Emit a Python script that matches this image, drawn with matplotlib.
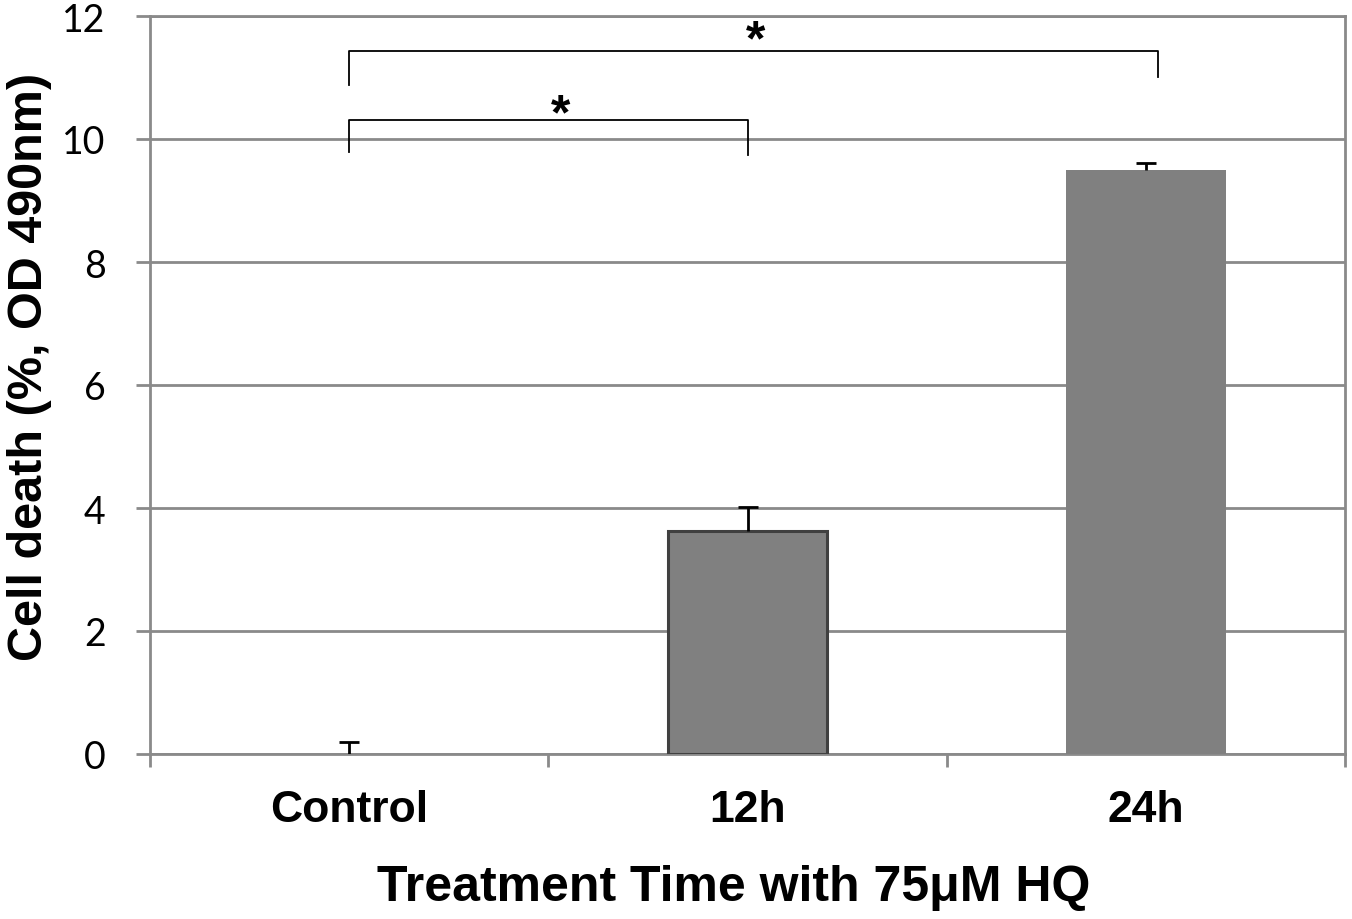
import matplotlib
matplotlib.use("Agg")
import matplotlib.pyplot as plt

# data
categories = ["Control", "12h", "24h"]
cell_death = [0.0, 3.62, 9.50]
err_upper = [0.19, 0.39, 0.11]
bar_edges = ["none", "#404040", "none"]

# significance brackets: (x_left, x_right, y_top, y_left_leg, y_right_leg, x_star, y_star_baseline)
brackets = [
    (0.0, 1.0, 10.31, 9.79, 9.74, 0.53, 10.18),
    (0.0, 2.03, 11.43, 10.88, 11.01, 1.02, 11.38),
]

GRID = "#8a8a8a"

fig = plt.figure(figsize=(13.52, 9.2), dpi=100)
ax = fig.add_axes([150 / 1352, 1 - 755 / 920, 1195 / 1352, 738 / 920])

x = list(range(len(categories)))
bars = ax.bar(x, cell_death, width=0.40, color="#808080", zorder=3)
for b, ec in zip(bars, bar_edges):
    if ec != "none":
        b.set_edgecolor(ec)
        b.set_linewidth(2.2)
eb = ax.errorbar(x, cell_death, yerr=[[0] * len(x), err_upper], fmt="none",
                 ecolor="black", elinewidth=2.0, capsize=7, capthick=2.0, zorder=4)
# only the upper caps are drawn in the original
eb.lines[1][0].set_visible(False)

ax.set_xlim(-0.5, 2.5)
ax.set_ylim(0, 12)
ax.set_yticks(range(0, 13, 2))
ax.yaxis.grid(True, color=GRID, linewidth=2.0, zorder=0)
ax.set_axisbelow(True)

# category labels on majors, boundary ticks on minors
ax.set_xticks(x)
ax.set_xticklabels(categories, fontfamily="Liberation Sans", fontweight="bold", fontsize=32)
ax.set_xticks([-0.5, 0.5, 1.5, 2.5], minor=True)
ax.tick_params(axis="x", which="major", length=0, pad=25)
ax.tick_params(axis="x", which="minor", length=9.5, width=2.0, color=GRID, direction="out")
ax.tick_params(axis="y", length=10, width=2.0, color=GRID, direction="out", pad=22)
for lab in ax.get_yticklabels():
    lab.set_fontfamily("Lato")
    lab.set_fontsize(27)

for s in ax.spines.values():
    s.set_color(GRID)
    s.set_linewidth(2.0)

for xl, xr, yt, yl, yr, xs, ys in brackets:
    ax.plot([xl, xl, xr, xr], [yl, yt, yt, yr], color="black", linewidth=1.3,
            clip_on=False, zorder=5)
    ax.text(xs, ys, "*", ha="center", va="baseline", fontsize=36,
            fontfamily="Liberation Sans", fontweight="bold", zorder=5)

fig.text(30 / 1352, 1 - 367 / 920, "Cell death (%, OD 490nm)", rotation=90,
         ha="center", va="center", fontfamily="Liberation Sans", fontweight="bold", fontsize=35)
fig.text(734 / 1352, 1 - 888 / 920, "Treatment Time with 75μM HQ",
         ha="center", va="center", fontfamily="Liberation Sans", fontweight="bold", fontsize=36)

fig.savefig("out.png", dpi=100)
